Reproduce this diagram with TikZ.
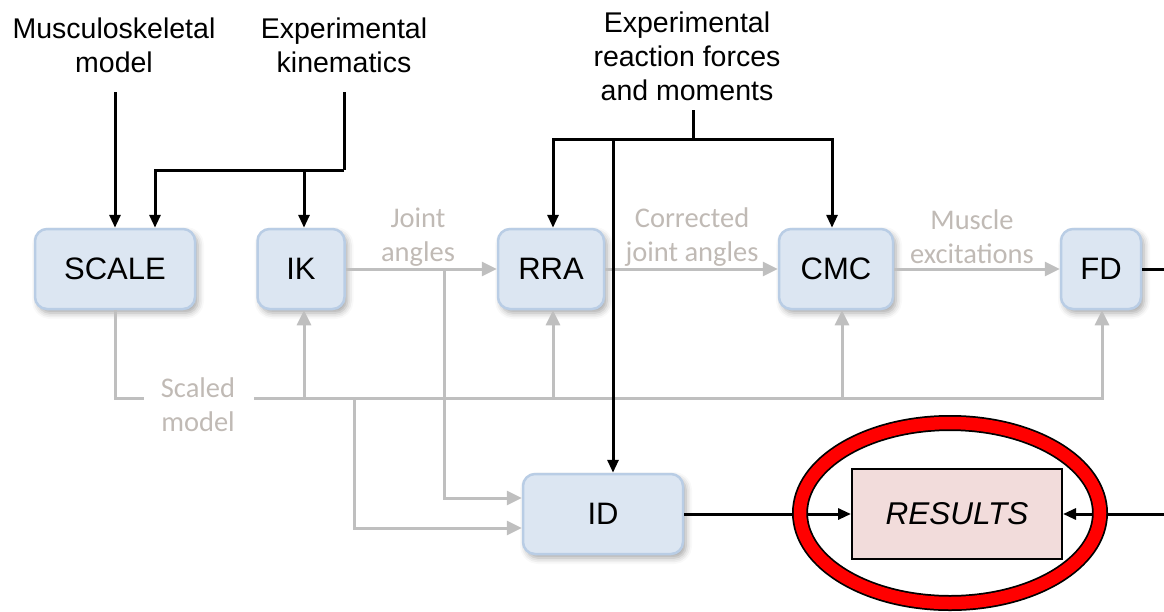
\documentclass[tikz,border=0pt]{standalone}
\usepackage{fontspec}
\setmainfont{Liberation Sans}
\newfontfamily\labelfont{Carlito}
\usetikzlibrary{arrows.meta,shadows.blur}
\definecolor{boxfill}{RGB}{220,230,242}
\definecolor{boxline}{RGB}{185,205,229}
\definecolor{flowgray}{RGB}{191,191,191}
\definecolor{labelgray}{RGB}{192,186,181}
\definecolor{resfill}{RGB}{242,220,219}
\tikzset{
  toolbox/.style={draw=boxline, fill=boxfill, line width=2.5pt, rounded corners=12pt,
    minimum height=80pt, inner sep=0pt, font=\fontsize{31}{34}\selectfont,
    blur shadow={shadow xshift=3pt, shadow yshift=-4pt, shadow blur radius=6pt, shadow opacity=35}},
  inputtext/.style={align=center, inner sep=0pt, font=\fontsize{28.5}{34}\selectfont},
  flowtext/.style={align=center, inner sep=0pt, text=labelgray, font=\labelfont\fontsize{28.5}{34}\selectfont},
  bline/.style={draw=black, line width=3pt},
  barrow/.style={bline, -{Triangle[length=13pt,width=11pt]}},
  gline/.style={draw=flowgray, line width=3pt},
  garrow/.style={gline, -{Triangle[length=15pt,width=14pt]}},
}
\begin{document}
\begin{tikzpicture}[x=1pt,y=-1pt]
\useasboundingbox (0,0) rectangle (1164,611);

% processing steps
\node[toolbox, minimum width=160pt] (scale) at (115,269) {SCALE};
\node[toolbox, minimum width=87pt]  (ik)    at (301,269) {IK};
\node[toolbox, minimum width=106pt] (rra)   at (551,269) {RRA};
\node[toolbox, minimum width=114pt] (cmc)   at (836,269) {CMC};
\node[toolbox, minimum width=80pt]  (fd)    at (1101,269) {FD};
\node[toolbox, minimum width=160pt] (id)    at (603,514) {ID};

% experimental inputs
\node[inputtext] (musc) at (114,45) {Musculoskeletal\\model};
\node[inputtext] (kin)  at (344,45) {Experimental\\kinematics};
\node[inputtext] (react) at (687,56) {Experimental\\reaction forces\\and moments};

% data passed between steps
\node[flowtext] (ja)  at (418,237) {Joint\\angles};
\node[flowtext] (cja) at (692,237) {Corrected\\joint angles};
\node[flowtext] (me)  at (972,237) {Muscle\\excitations};
\node[flowtext] (sm)  at (198,405) {Scaled\\model};

% junction points
\coordinate (muscend) at (115,92);
\coordinate (kinend)  at (344,92);
\coordinate (kinjoin) at (344,170);
\coordinate (reactend)  at (693,110);
\coordinate (reactjoin) at (693,139);
\coordinate (busleft)  at (144,398);
\coordinate (busstart) at (254,398);
\coordinate (busend)   at (1102,398);
\coordinate (jatap)  at (444,269);
\coordinate (bustap) at (354,398);
\coordinate (fdout)  at (1164,269);
\coordinate (resin)  at (1164,514);

% arrow entry points on the steps
\coordinate (ikbot)  at ([xshift=3pt]ik.south);
\coordinate (rrabot) at ([xshift=2pt]rra.south);
\coordinate (cmcbot) at ([xshift=6pt]cmc.south);
\coordinate (iktop)  at ([xshift=3pt]ik.north);
\coordinate (scaletop) at ([xshift=40pt]scale.north);
\coordinate (rratop) at ([xshift=2pt]rra.north);
\coordinate (cmctop) at ([xshift=-4pt]cmc.north);
\coordinate (idtop)  at ([xshift=10pt]id.north);
\coordinate (idinA)  at ([yshift=16pt]id.west);
\coordinate (idinB)  at ([yshift=-14pt]id.west);

% gray data flow
\draw[gline] (scale.south) |- (busleft);
\draw[garrow] (busstart) -- (busend) -- (fd.south -| busend);
\draw[garrow] (busstart -| ikbot) -- (ikbot);
\draw[garrow] (busstart -| rrabot) -- (rrabot);
\draw[garrow] (busstart -| cmcbot) -- (cmcbot);
\draw[garrow] (ik.east) -- (rra.west);
\draw[garrow] (rra.east) -- (cmc.west);
\draw[garrow] (cmc.east) -- (fd.west);
\draw[garrow] (jatap) |- (idinA);
\draw[garrow] (bustap) |- (idinB);

% black inputs
\draw[barrow] (muscend) -- (scale.north);
\draw[bline] (kinend) -- (kinjoin);
\draw[barrow] (kinjoin) -| (scaletop);
\draw[barrow] (kinjoin -| iktop) -- (iktop);
\draw[bline] (reactend) -- (reactjoin);
\draw[barrow] (reactjoin) -| (rratop);
\draw[barrow] (reactjoin) -| (cmctop);
\draw[barrow] (reactjoin -| idtop) -- (idtop);

% outputs to results
\node[draw=black, line width=2pt, fill=resfill, minimum width=210pt, minimum height=90pt,
  inner sep=0pt, font=\fontsize{31.5}{34}\selectfont\itshape] (res) at (957,514) {RESULTS};
\draw[bline] (fd.east) -- (fdout);
\draw[barrow] (id.east) -- (res.west);
\draw[barrow] (resin) -- (res.east);

% highlight ring
\draw[black, line width=16pt] (950,513) ellipse [x radius=150, y radius=90];
\draw[red, line width=12.5pt] (950,513) ellipse [x radius=150, y radius=90];
\end{tikzpicture}
\end{document}
